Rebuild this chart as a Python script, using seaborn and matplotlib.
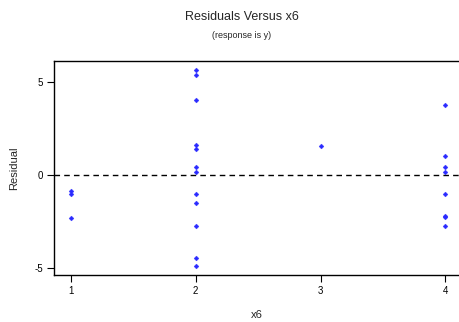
import numpy as np
import pandas as pd
import matplotlib
matplotlib.use("Agg")
import matplotlib.pyplot as plt
import seaborn as sns

# residuals, grouped by x6 level
x6_levels = [1, 1, 1,
             2, 2, 2, 2, 2, 2, 2, 2, 2, 2, 2, 2,
             3,
             4, 4, 4, 4, 4, 4, 4, 4]
residuals = [-0.85, -1.0, -2.3,
             5.6, 5.35, 4.0, 1.6, 1.4, 0.45, 0.15, -1.0, -1.5, -2.75, -4.45, -4.85,
             1.55,
             3.75, 1.0, 0.45, 0.15, -1.0, -2.2, -2.25, -2.75]
xticks = [1, 2, 3, 4]
yticks = [-5, 0, 5]

df = pd.DataFrame({"x6": x6_levels, "Residual": residuals})

sns.set_style("white")
plt.rcParams['font.family'] = ['Liberation Sans', 'DejaVu Sans']
plt.rcParams['axes.unicode_minus'] = False

fig = plt.figure(figsize=(4.6, 3.22), dpi=100)
ax = fig.add_axes([54/460, 1 - 275/322, 405/460, 214/322])

sns.scatterplot(data=df, x="x6", y="Residual", ax=ax, marker="D", s=6,
                color="#2a2aff", edgecolor="#2a2aff", linewidth=0.3, zorder=3)
ax.axhline(0, color="black", linestyle=(0, (4, 3)), linewidth=1)

ax.set_xlim(0.864, 4.11)
ax.set_ylim(-5.35, 6.1)
ax.set_xticks(xticks)
ax.set_yticks(yticks)
ax.tick_params(axis="both", direction="out", length=5, width=0.8, labelsize=7,
               colors="black", pad=3, left=True, bottom=True)
for s in ["left", "bottom", "top"]:
    ax.spines[s].set_color("black")
    ax.spines[s].set_linewidth(1.0)
ax.spines["right"].set_visible(False)

ax.set_xlabel("x6", fontsize=8, labelpad=10)
ax.set_ylabel("Residual", fontsize=8, labelpad=11)

fig.text(242/460, 1 - 17/322, "Residuals Versus x6", ha="center", va="center", fontsize=9)
fig.text(242/460, 1 - 36/322, "(response is y)", ha="center", va="center", fontsize=6.5)

fig.savefig("out.png", dpi=100)
